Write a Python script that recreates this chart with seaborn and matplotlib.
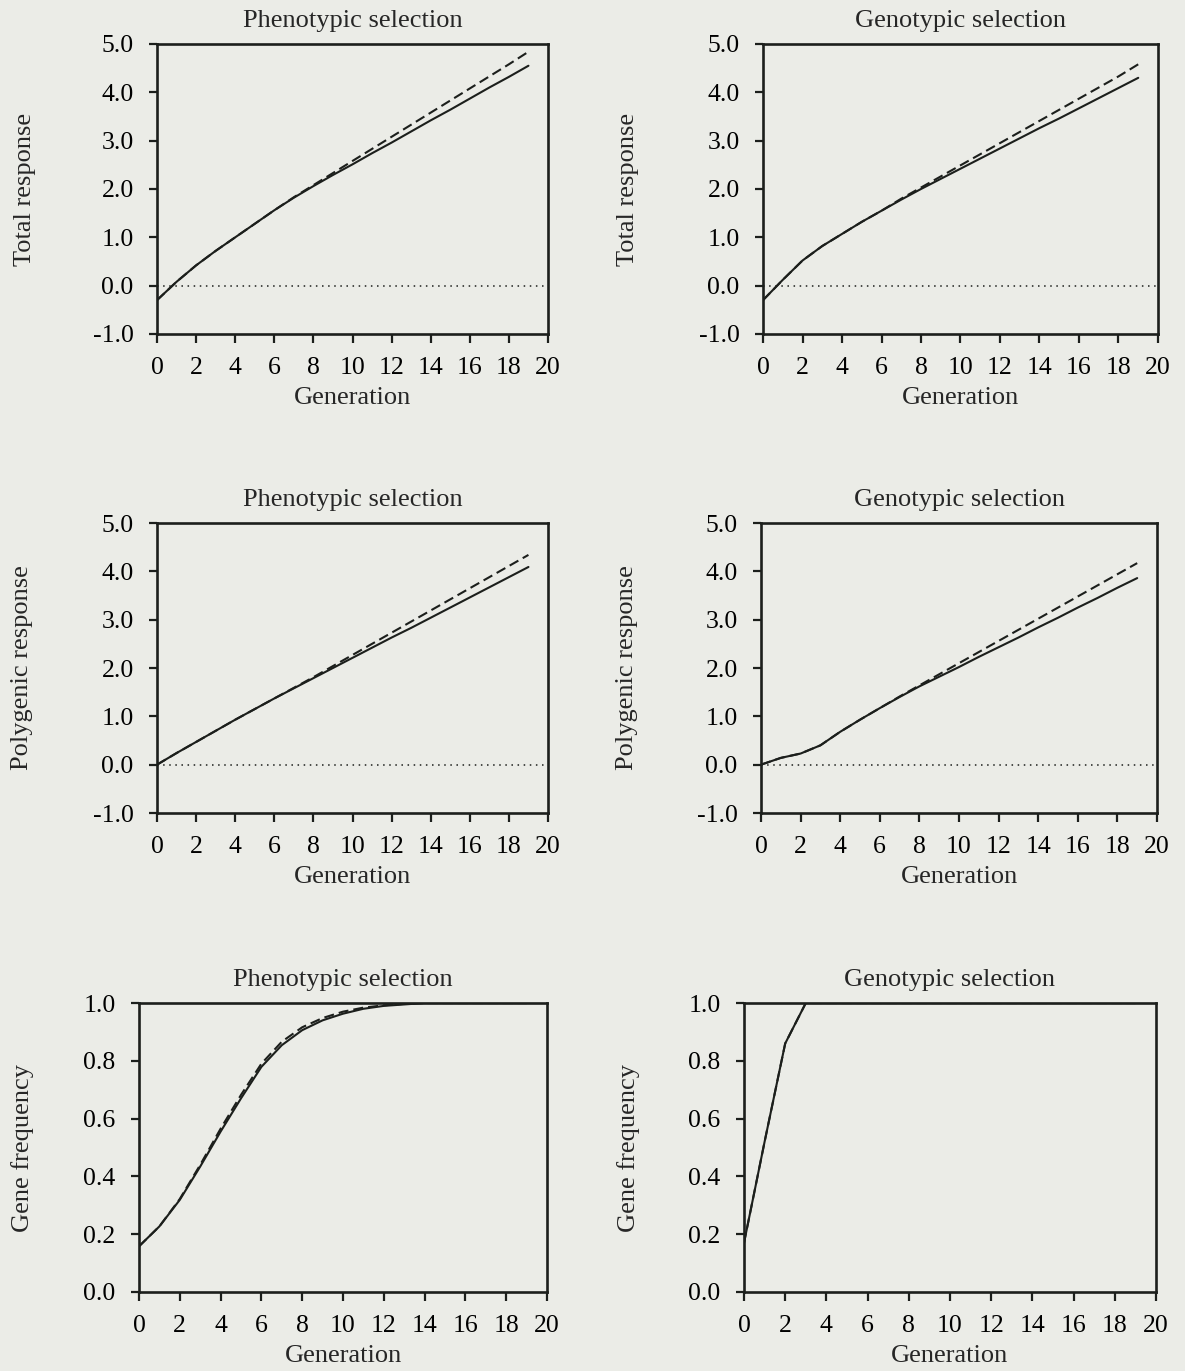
import numpy as np
import pandas as pd
import matplotlib
matplotlib.use("Agg")
import matplotlib.pyplot as plt
import seaborn as sns

# ---------------- data ----------------
generation = list(range(20))

# Total response
total_pheno_solid = [-0.30, 0.08, 0.42, 0.72, 1.00, 1.28, 1.56, 1.82, 2.06, 2.29, 2.51,
                     2.74, 2.96, 3.19, 3.42, 3.64, 3.87, 4.10, 4.32, 4.55]
total_pheno_dashed = [-0.30, 0.08, 0.42, 0.72, 1.00, 1.28, 1.56, 1.83, 2.08, 2.33, 2.58,
                      2.83, 3.08, 3.33, 3.58, 3.83, 4.08, 4.33, 4.58, 4.84]
total_geno_solid = [-0.30, 0.12, 0.52, 0.82, 1.07, 1.32, 1.55, 1.78, 2.00, 2.21, 2.42,
                    2.63, 2.84, 3.05, 3.26, 3.46, 3.67, 3.88, 4.09, 4.30]
total_geno_dashed = [-0.30, 0.12, 0.52, 0.82, 1.07, 1.32, 1.55, 1.80, 2.03, 2.26, 2.49,
                     2.72, 2.95, 3.18, 3.41, 3.64, 3.87, 4.10, 4.33, 4.58]

# Polygenic response
poly_pheno_solid = [0.00, 0.24, 0.47, 0.70, 0.93, 1.15, 1.37, 1.58, 1.79, 2.00, 2.21,
                    2.42, 2.63, 2.83, 3.04, 3.25, 3.46, 3.67, 3.88, 4.09]
poly_pheno_dashed = [0.00, 0.24, 0.47, 0.70, 0.93, 1.15, 1.37, 1.59, 1.81, 2.04, 2.27,
                     2.50, 2.73, 2.96, 3.19, 3.42, 3.65, 3.88, 4.11, 4.34]
poly_geno_solid = [0.00, 0.14, 0.23, 0.40, 0.68, 0.93, 1.17, 1.40, 1.62, 1.82, 2.02,
                   2.23, 2.43, 2.63, 2.84, 3.04, 3.25, 3.45, 3.66, 3.86]
poly_geno_dashed = [0.00, 0.14, 0.23, 0.40, 0.68, 0.93, 1.17, 1.41, 1.64, 1.87, 2.10,
                    2.33, 2.56, 2.79, 3.02, 3.25, 3.48, 3.71, 3.94, 4.17]

# Gene frequency
freq_pheno_solid = [0.158, 0.227, 0.319, 0.434, 0.555, 0.670, 0.779, 0.854, 0.906, 0.940,
                    0.963, 0.980, 0.990, 0.995, 1.0, 1.0, 1.0, 1.0, 1.0, 1.0]
freq_pheno_dashed = [0.158, 0.227, 0.322, 0.440, 0.565, 0.682, 0.790, 0.866, 0.916, 0.948,
                     0.970, 0.984, 0.992, 0.997, 1.0, 1.0, 1.0, 1.0, 1.0, 1.0]
freq_geno_solid = [0.17, 0.52, 0.86, 1.0, 1.0, 1.0, 1.0, 1.0, 1.0, 1.0,
                   1.0, 1.0, 1.0, 1.0, 1.0, 1.0, 1.0, 1.0, 1.0, 1.0]
freq_geno_dashed = [0.17, 0.52, 0.86, 1.0, 1.0, 1.0, 1.0, 1.0, 1.0, 1.0,
                    1.0, 1.0, 1.0, 1.0, 1.0, 1.0, 1.0, 1.0, 1.0, 1.0]

titles = ["Phenotypic selection", "Genotypic selection"]
ylabels = ["Total response", "Polygenic response", "Gene frequency"]
xticks = list(range(0, 21, 2))
resp_yticks = [-1.0, 0.0, 1.0, 2.0, 3.0, 4.0, 5.0]
freq_yticks = [0.0, 0.2, 0.4, 0.6, 0.8, 1.0]

# ---------------- style ----------------
BG = "#ebece7"
INK = "#1c1f1c"
LABEL_FS = 19
TICK_FS = 18.5
sns.set_style("ticks")
plt.rcParams["font.family"] = ["Liberation Serif", "DejaVu Serif"]
plt.rcParams["axes.unicode_minus"] = False

fig = plt.figure(figsize=(11.85, 13.71), dpi=100, facecolor=BG)

W, H = 1185, 1371
# pixel boxes: (left, right, top, bottom)
boxes = [
    (157, 548, 44, 334), (763, 1158, 44, 334),
    (157, 548, 523, 813), (761, 1157, 523, 813),
    (139, 547, 1003, 1292), (744, 1156, 1003, 1292),
]
ylabel_x = [36, 639, 33, 638, 34, 640]

series = [
    (total_pheno_solid, total_pheno_dashed),
    (total_geno_solid, total_geno_dashed),
    (poly_pheno_solid, poly_pheno_dashed),
    (poly_geno_solid, poly_geno_dashed),
    (freq_pheno_solid, freq_pheno_dashed),
    (freq_geno_solid, freq_geno_dashed),
]

for i, (box, (solid, dashed)) in enumerate(zip(boxes, series)):
    l, r, t, b = box
    ax = fig.add_axes([l / W, 1 - b / H, (r - l) / W, (b - t) / H])
    ax.set_facecolor(BG)
    row = i // 2
    df = pd.DataFrame({"Generation": generation, "solid": solid, "dashed": dashed})
    if row < 2:
        ax.axhline(0.0, color=INK, lw=1.1, linestyle=(0, (1, 3)), zorder=1)
    sns.lineplot(data=df, x="Generation", y="dashed", ax=ax, color=INK, lw=1.5,
                 linestyle=(0, (4.8, 2.4)), zorder=3)
    sns.lineplot(data=df, x="Generation", y="solid", ax=ax, color=INK, lw=1.5, zorder=4)

    ax.set_xlim(0, 20)
    ax.set_xticks(xticks)
    ax.set_xticklabels([str(v) for v in xticks])
    if row < 2:
        ax.set_ylim(-1.0, 5.0)
        ax.set_yticks(resp_yticks)
        ax.set_yticklabels([f"{v:.1f}" for v in resp_yticks])
    else:
        ax.set_ylim(0.0, 1.0)
        ax.set_yticks(freq_yticks)
        ax.set_yticklabels([f"{v:.1f}" for v in freq_yticks])

    for sp in ax.spines.values():
        sp.set_visible(True)
        sp.set_linewidth(1.9)
        sp.set_color(INK)
    ax.tick_params(axis="x", direction="out", length=6.5, width=1.6, pad=10,
                   colors=INK, labelsize=TICK_FS, labelcolor="black")
    ax.tick_params(axis="y", direction="out", length=5.8, width=1.6, pad=11,
                   colors=INK, labelsize=TICK_FS, labelcolor="black")

    ax.set_title(titles[i % 2], fontsize=LABEL_FS, pad=12)
    ax.set_xlabel("Generation", fontsize=LABEL_FS)
    ax.set_ylabel(ylabels[row], fontsize=LABEL_FS)
    ax.xaxis.set_label_coords(0.5, -0.182)
    ax.yaxis.set_label_coords((ylabel_x[i] - l) / (r - l), 0.5)

fig.savefig("out.png", dpi=100, facecolor=BG)
